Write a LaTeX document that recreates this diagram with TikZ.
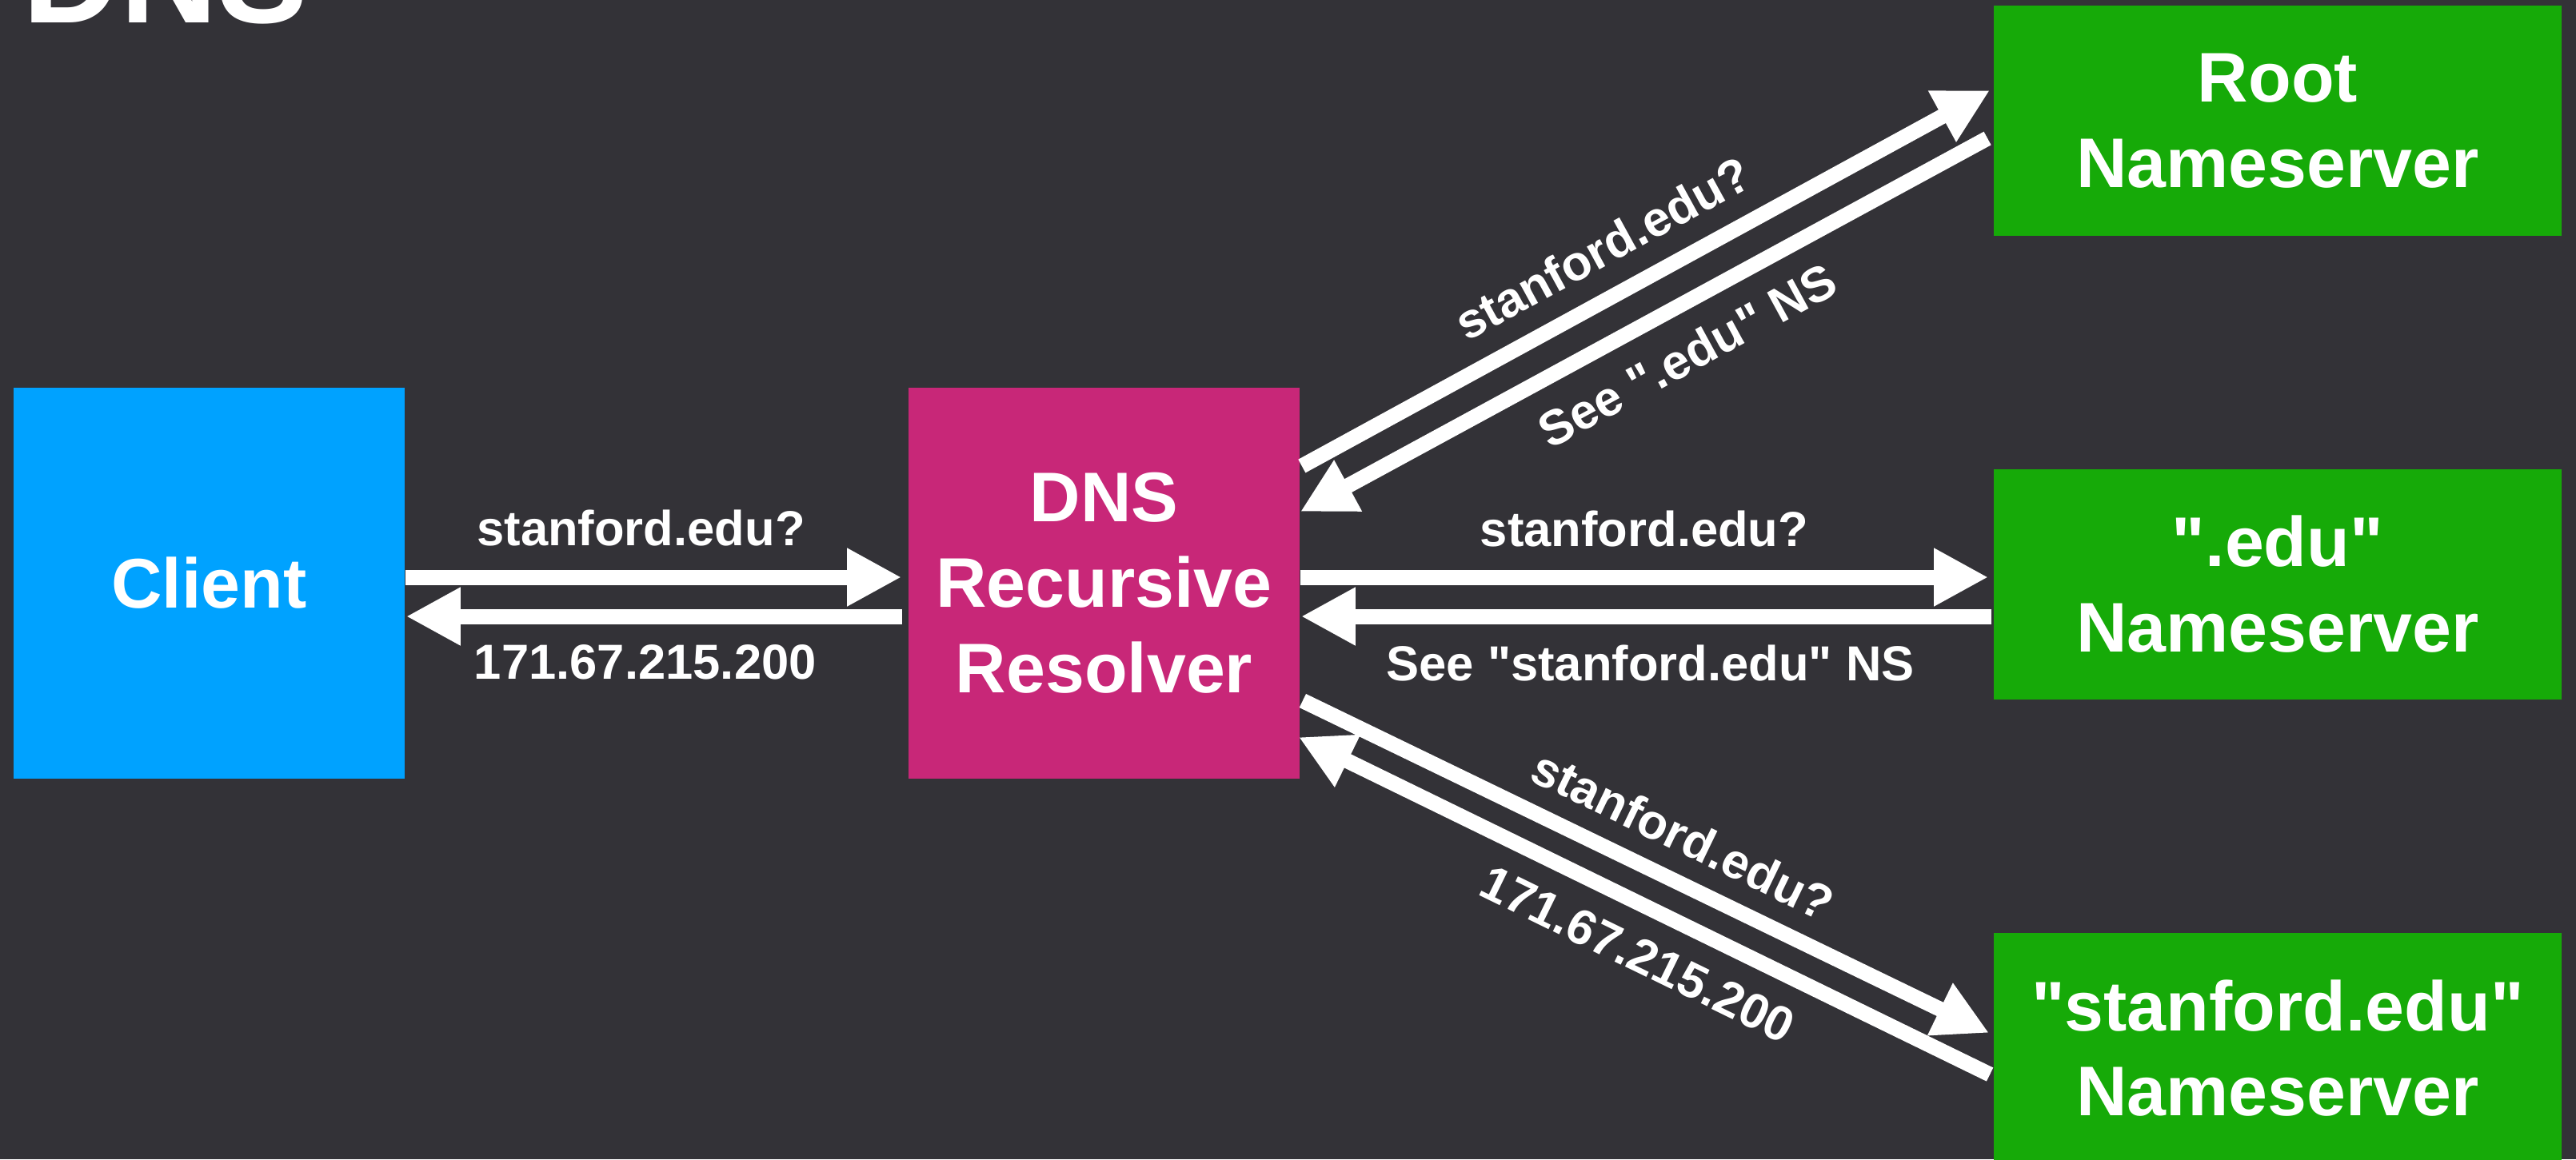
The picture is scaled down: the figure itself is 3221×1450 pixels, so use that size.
\documentclass[tikz,border=0pt]{standalone}
\usepackage{fontspec}
\setmainfont{Liberation Sans}[Ligatures=TeXOff]
\usetikzlibrary{arrows.meta}
\definecolor{bg}{RGB}{51,50,55}
\definecolor{cblue}{RGB}{0,162,255}
\definecolor{cmag}{RGB}{200,39,120}
\definecolor{cgreen}{RGB}{22,170,8}
\begin{document}
\begin{tikzpicture}[x=0.01cm, y=-0.01cm,
  box/.style={inner sep=0pt, text=white, font=\bfseries\fontsize{25}{30.4}\selectfont, align=center},
  clientbox/.style={box, fill=cblue, minimum width=4.89cm, minimum height=4.89cm},
  resbox/.style={box, fill=cmag, minimum width=4.89cm, minimum height=4.89cm},
  nsbox/.style={box, fill=cgreen, minimum width=7.10cm, minimum height=2.88cm},
  lbl/.style={text=white, font=\bfseries\fontsize{17.5}{20}\selectfont, inner sep=0pt, sloped},
  fat/.style={draw=white, line width=0.19cm, -{Triangle[length=0.68cm, width=0.68cm]}}]
\fill[bg] (0,0) rectangle (3221,1450);
\useasboundingbox (0,0) rectangle (3221,1450);
\node[anchor=base west, inner sep=0pt, text=white, font=\bfseries\fontsize{48}{50}\selectfont] (title) at (28,28) {DNS};

\node[clientbox] (client) at (261.5,729.5) {Client};
\node[resbox] (res) at (1380.5,729.5) {DNS\\Recursive\\Resolver};
\node[nsbox] (root) at (2848,151) {Root\\Nameserver};
\node[nsbox] (edu) at (2848,731) {".edu"\\Nameserver};
\node[nsbox] (stan) at (2848,1311) {"stanford.edu"\\Nameserver};

% client <-> resolver
\draw[fat] ([shift={(0,-7.5)}]client.east) -- node[lbl, pos=0.475, yshift=0.61cm] (l1) {stanford.edu?} ([shift={(-8,-7.5)}]res.west);
\draw[fat] ([shift={(-7,41.5)}]res.west) -- node[lbl, pos=0.518, yshift=-0.575cm] (l2) {171.67.215.200} ([shift={(1,41.5)}]client.east);

% resolver <-> root
\draw[fat] ([shift={(2,-146.5)}]res.east) -- node[lbl, pos=0.47, yshift=0.59cm] (l3) {stanford.edu?} ([shift={(-4,-38)}]root.west);
\draw[fat] ([shift={(-7,22)}]root.west) -- node[lbl, pos=0.47, yshift=-0.59cm] (l4) {See ".edu" NS} ([shift={(0,-89.5)}]res.east);

% resolver <-> edu
\draw[fat] ([shift={(0,-7.5)}]res.east) -- node[lbl, pos=0.5, yshift=0.6cm] (l5) {stanford.edu?} ([shift={(-6,-9)}]edu.west);
\draw[fat] ([shift={(-2,40)}]edu.west) -- node[lbl, pos=0.494, yshift=-0.58cm] (l6) {See "stanford.edu" NS} ([shift={(1,41.5)}]res.east);

% resolver <-> stanford
\draw[fat] ([shift={(3,147)}]res.east) -- node[lbl, pos=0.526, yshift=0.56cm] (l7) {stanford.edu?} ([shift={(-5,-19)}]stan.west);
\draw[fat] ([shift={(-4,33)}]stan.west) -- node[lbl, pos=0.48, yshift=-0.58cm] (l8) {171.67.215.200} ([shift={(-2,192.5)}]res.east);
\end{tikzpicture}
\end{document}
